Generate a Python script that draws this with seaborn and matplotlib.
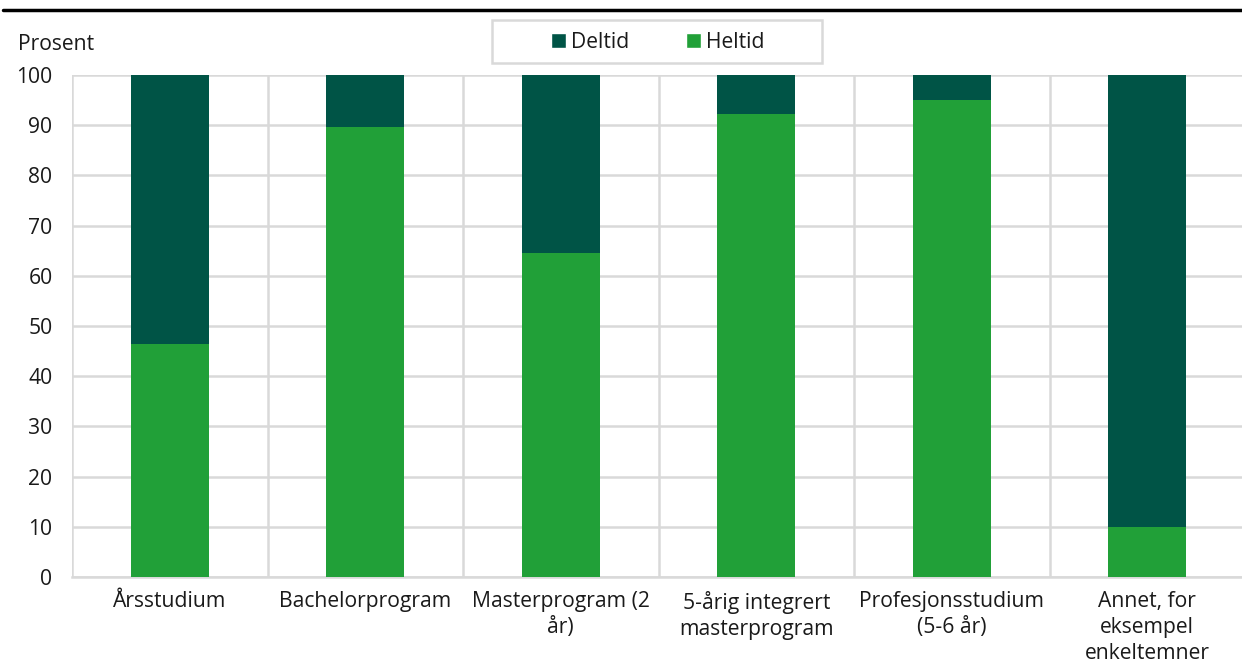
import pandas as pd
import matplotlib.pyplot as plt
import seaborn as sns
from matplotlib.lines import Line2D
from matplotlib.patches import Patch, Rectangle

# Data
kategorier = ["Årsstudium", "Bachelorprogram", "Masterprogram (2\når)",
              "5-årig integrert\nmasterprogram", "Profesjonsstudium\n(5-6 år)",
              "Annet, for\neksempel\nenkeltemner"]
heltid = [46.4, 89.6, 64.6, 92.2, 95.0, 9.9]
deltid = [53.6, 10.4, 35.4, 7.8, 5.0, 90.1]

farge_deltid = "#005446"
farge_heltid = "#21a038"
grid_farge = "#d9d9d9"
tekst_farge = "#1a1a1a"
fs = 15.2

df = pd.DataFrame({"Kategori": kategorier, "Heltid": heltid, "Deltid": deltid})
df["Total"] = df["Heltid"] + df["Deltid"]

sns.set_style("white")
plt.rcParams['font.family'] = ['Open Sans', 'DejaVu Sans']

W, H = 1242, 671
fig = plt.figure(figsize=(W / 100, H / 100), dpi=100)
ax = fig.add_axes([72 / W, 1 - 577 / H, 1173 / W, 502 / H])

# Stablede søyler: total (deltid på toppen) og heltid under
sns.barplot(data=df, x="Kategori", y="Total", color=farge_deltid, width=0.4,
            saturation=1, ax=ax, zorder=3, linewidth=0, edgecolor="none")
sns.barplot(data=df, x="Kategori", y="Heltid", color=farge_heltid, width=0.4,
            saturation=1, ax=ax, zorder=3, linewidth=0, edgecolor="none")

ax.set_ylim(0, 100)
ax.set_xlim(-0.5, len(kategorier) - 0.5)
ax.set_yticks(range(0, 101, 10))
ax.set_xticks(range(len(kategorier)))
ax.set_xticks([i + 0.5 for i in range(-1, len(kategorier))], minor=True)
ax.tick_params(axis="both", which="both", length=0, labelsize=fs,
               colors=tekst_farge)
ax.tick_params(axis="x", pad=10)
ax.tick_params(axis="y", pad=14)
ax.set_xticklabels(kategorier, linespacing=1.32)
ax.set_xlabel("")
ax.set_ylabel("")

ax.grid(axis="y", which="major", color=grid_farge, linewidth=1.8, zorder=0)
ax.grid(axis="x", which="minor", color=grid_farge, linewidth=1.8, zorder=0)
ax.set_axisbelow(True)
for side in ["top", "right", "left"]:
    ax.spines[side].set_visible(False)
ax.spines["bottom"].set_color(grid_farge)
ax.spines["bottom"].set_linewidth(1.8)

fig.text(18 / W, 1 - 44 / H, "Prosent", fontsize=fs, va="center",
         ha="left", color=tekst_farge)

# Forklaring (ramme tegnet separat)
handles = [Patch(facecolor=farge_deltid, label="Deltid"),
           Patch(facecolor=farge_heltid, label="Heltid")]
leg = fig.legend(handles=handles, loc="center", ncol=2,
                 bbox_to_anchor=(658 / W, 1 - 42 / H),
                 frameon=False, fontsize=fs,
                 handlelength=0.7, handleheight=0.7, handletextpad=0.25,
                 columnspacing=2.7, borderpad=0, borderaxespad=0)
for t in leg.get_texts():
    t.set_color(tekst_farge)
fig.add_artist(Rectangle((492 / W, 1 - 63 / H), 330 / W, 43 / H,
                         transform=fig.transFigure, facecolor="white",
                         edgecolor=grid_farge, linewidth=1.8, zorder=0))

# Tykk linje under (avkuttet) tittel
fig.add_artist(Line2D([3 / W, 1], [1 - 10 / H, 1 - 10 / H],
                      color="black", linewidth=2.5, transform=fig.transFigure))

fig.savefig("out.png", dpi=100)
